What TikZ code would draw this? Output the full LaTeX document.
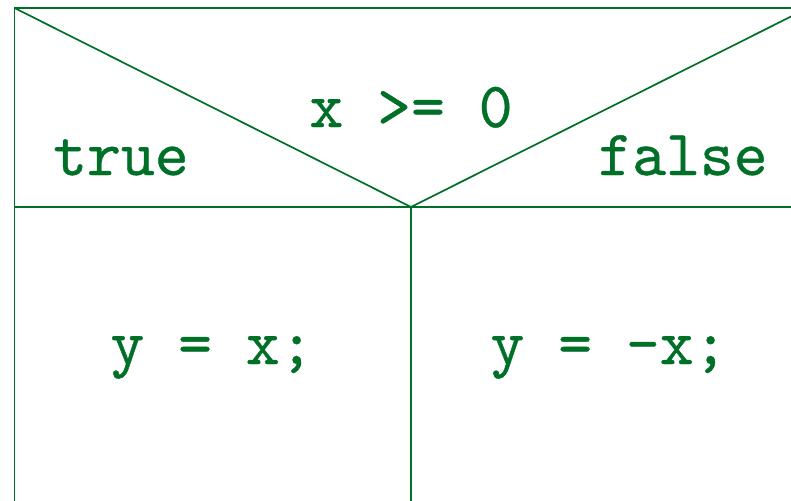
\documentclass[tikz,border=0pt]{standalone}
\usepackage{fontspec}
\newfontfamily\nsmono[FakeBold=0.6]{lmmono10-regular.otf}
\definecolor{nsgreen}{RGB}{0,112,40}
\begin{document}
\begin{tikzpicture}[x=1pt,y=-1pt,
  frame/.style={draw=nsgreen,line width=1.7pt},
  lbl/.style={text=nsgreen,anchor=base,inner sep=0pt,font=\fontsize{64.5}{70}\selectfont\nsmono}]
\useasboundingbox (0,0) rectangle (791,500);
\clip (0,0) rectangle (791,500);
\coordinate (tl) at (14.5,8);
\coordinate (tr) at (808,8);
\coordinate (ml) at (14.5,207);
\coordinate (mr) at (808,207);
\coordinate (mid) at (411,207);
\coordinate (bl) at (14.5,520);
\coordinate (bm) at (411,520);
\draw[frame] (bl) -- (tl) -- (tr);
\draw[frame] (ml) -- (mr);
\draw[frame] (tl) -- (mid) -- (tr);
\draw[frame] (mid) -- (bm);
\node[lbl] (cond) at (411,127) {x >= 0};
\node[lbl] (t) at (121,175) {true};
\node[lbl] (f) at (683,175) {false};
\node[lbl] (a) at (212,364) {y = x;};
\node[lbl] (b) at (609,364) {y = -x;};
\end{tikzpicture}
\end{document}
